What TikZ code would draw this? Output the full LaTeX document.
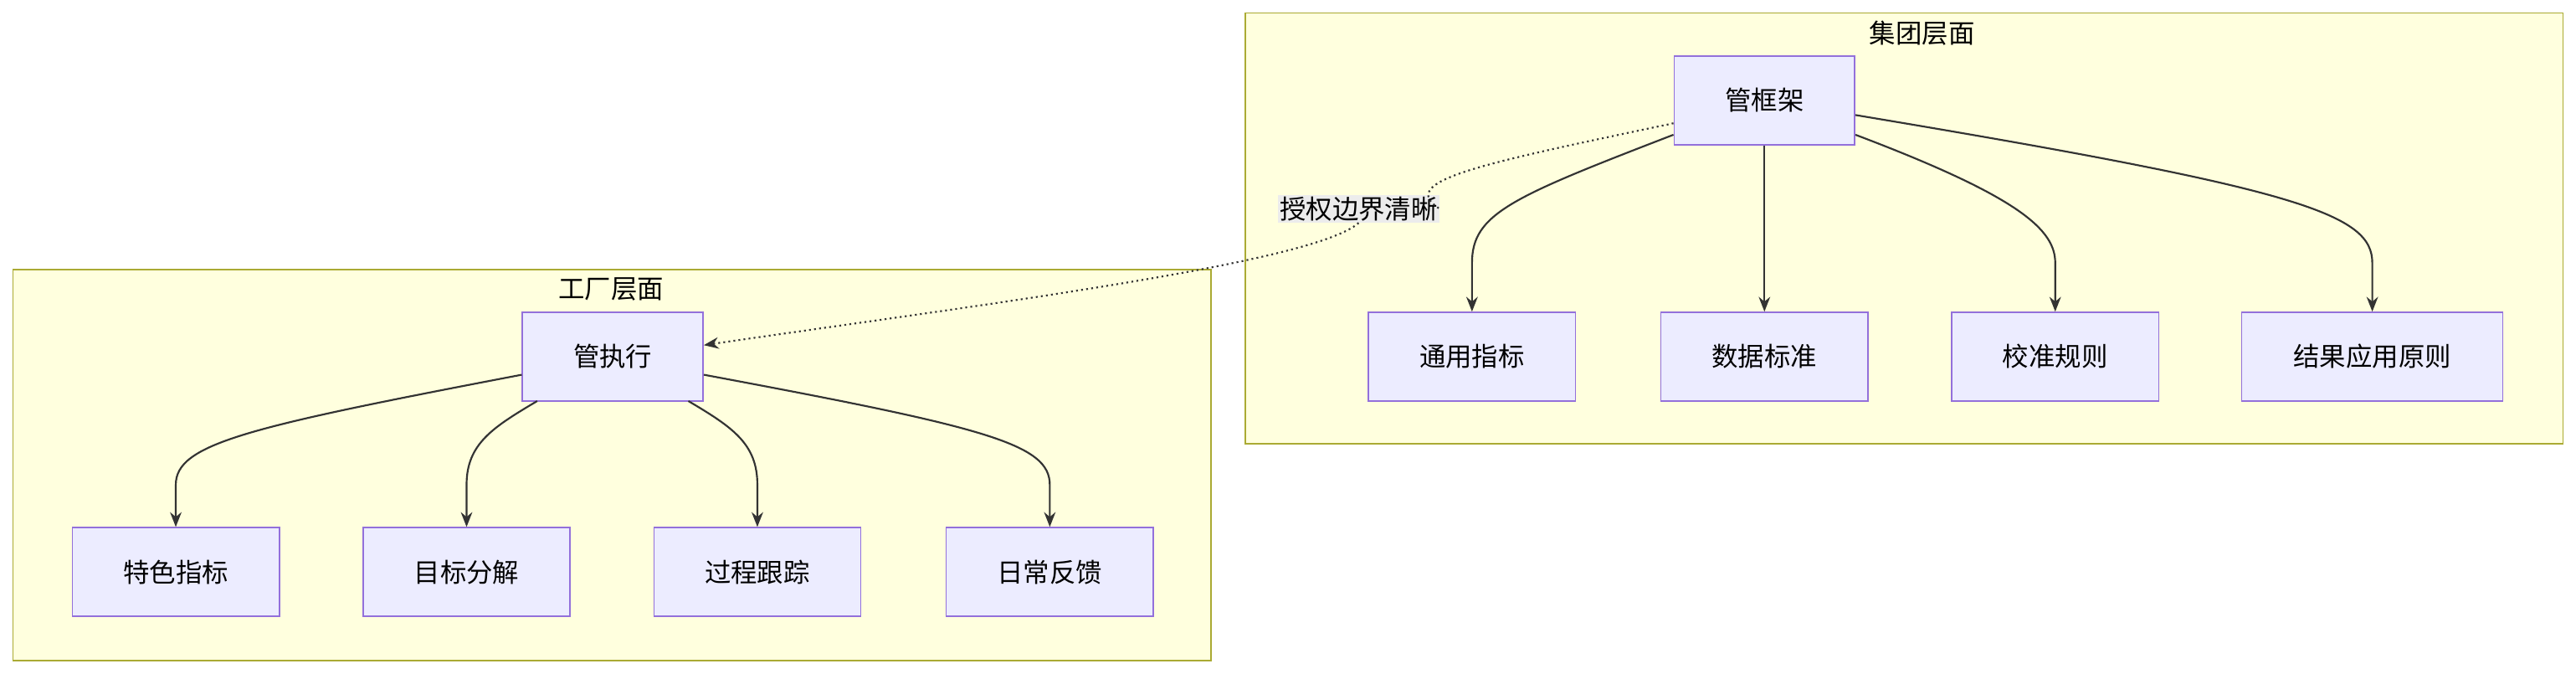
\documentclass[tikz,border=0pt]{standalone}
\usepackage{fontspec}
\setmainfont{Noto Sans CJK SC}
\usetikzlibrary{arrows.meta}
\definecolor{clusterfill}{HTML}{FFFFDE}
\definecolor{clusterline}{HTML}{AAAA33}
\definecolor{boxfill}{HTML}{ECECFF}
\definecolor{boxline}{HTML}{9370DB}
\definecolor{edgecol}{HTML}{333333}
\tikzset{
  cluster/.style={draw=clusterline, fill=clusterfill, line width=0.8pt},
  box/.style={draw=boxline, fill=boxfill, line width=0.8pt, minimum height=54pt, inner sep=0pt, font=\fontsize{16}{19}\selectfont},
  link/.style={draw=edgecol, line width=1.1pt, -{Stealth[length=9pt,width=7pt]}},
}
\begin{document}
\begin{tikzpicture}[x=1pt,y=-1pt]
\useasboundingbox (0,0) rectangle (1568,409.6);
% clusters
\draw[cluster] (758,8) rectangle (1560,270);
\node (grouptitle) at (1170,20) {\fontsize{16}{19}\selectfont 集团层面};
\draw[cluster] (8,164) rectangle (737,402);
\node (factorytitle) at (372,176) {\fontsize{16}{19}\selectfont 工厂层面};

% group level
\node[box, minimum width=110pt] (frame) at (1074,61) {管框架};
\node[box, minimum width=126pt] (common) at (896,217) {通用指标};
\node[box, minimum width=126pt] (data) at (1074,217) {数据标准};
\node[box, minimum width=126pt] (calib) at (1251,217) {校准规则};
\node[box, minimum width=159pt] (result) at (1444,217) {结果应用原则};

% factory level
\node[box, minimum width=110pt] (exec) at (373,217) {管执行};
\node[box, minimum width=126pt] (special) at (107,348) {特色指标};
\node[box, minimum width=126pt] (target) at (284,348) {目标分解};
\node[box, minimum width=126pt] (track) at (461,348) {过程跟踪};
\node[box, minimum width=126pt] (daily) at (639,348) {日常反馈};

\draw[link] (frame.west |- 0,82) .. controls (920,120) and (896,130) .. (896,160) -- (common.north);
\draw[link] (frame.south) -- (data.north);
\draw[link] (frame.east |- 0,82) .. controls (1230,120) and (1251,140) .. (1251,160) -- (calib.north);
\draw[link] (frame.east |- 0,70) .. controls (1400,115) and (1444,130) .. (1444,160) -- (result.north);

\draw[link] (exec.west |- 0,228) .. controls (150,260) and (107,270) .. (107,295) -- (special.north);
\draw[link] (327,244) .. controls (300,260) and (284,270) .. (284,295) -- (target.north);
\draw[link] (419,244) .. controls (446,260) and (461,270) .. (461,295) -- (track.north);
\draw[link] (exec.east |- 0,228) .. controls (600,260) and (639,270) .. (639,295) -- (daily.north);

% authority link
\node[fill=gray!15, inner sep=1pt, font=\fontsize{16}{19}\selectfont] (auth) at (827,127) {授权边界清晰};
\draw[edgecol, line width=1.1pt, dotted] (frame.west |- 0,75) .. controls (900,100) and (850,110) .. (auth.east);
\draw[link, dotted] (auth.south) .. controls (800,160) and (600,185) .. (exec.east |- 0,210);
\end{tikzpicture}
\end{document}
